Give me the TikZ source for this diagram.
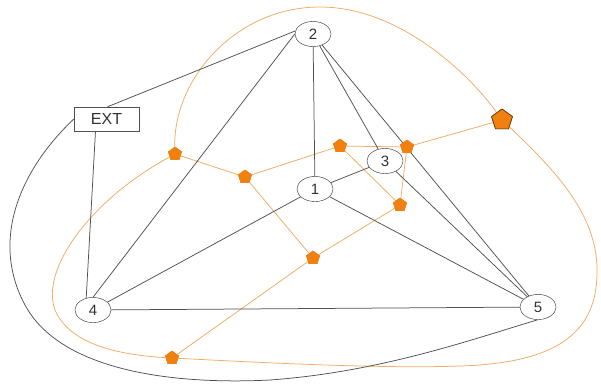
\documentclass[tikz,border=0pt]{standalone}
\usepackage{fontspec}
\setmainfont{Liberation Sans}
\usetikzlibrary{shapes.geometric}
\definecolor{edgegray}{RGB}{80,80,80}
\definecolor{dualline}{RGB}{240,170,100}
\definecolor{dualfill}{RGB}{240,128,16}
\begin{document}
\begin{tikzpicture}[x=1pt,y=-1pt,
  vtx/.style={draw=edgegray,ellipse,fill=white,minimum width=36pt,minimum height=25pt,inner sep=0pt,font=\fontsize{15}{15}\selectfont,text=black!80},
  extbox/.style={draw=edgegray,rectangle,fill=white,minimum width=65pt,minimum height=24pt,inner sep=0pt,font=\fontsize{16}{16}\selectfont,text=black!80},
  pent/.style={regular polygon,regular polygon sides=5,fill=dualfill,draw=dualfill,minimum size=14pt,inner sep=0pt},
  bigpent/.style={regular polygon,regular polygon sides=5,fill=dualfill,draw=black!60!dualfill,line width=0.6pt,minimum size=22pt,inner sep=0pt},
  pedge/.style={draw=edgegray,line width=0.75pt},
  dedge/.style={draw=dualline,line width=0.75pt}]
\useasboundingbox (0,0) rectangle (601,383);
% primal vertices
\node[vtx] (n2) at (313,34) {2};
\node[vtx] (n1) at (315,189) {1};
\node[vtx] (n3) at (385,161) {3};
\node[vtx] (n4) at (93,310) {4};
\node[vtx] (n5) at (538,307) {5};
\node[extbox] (ext) at (106.5,119) {EXT};
% dual vertices
\node[pent] (dA) at (175,154) {};
\node[pent] (dB) at (245,177) {};
\node[pent] (dC) at (340,146) {};
\node[pent] (dD) at (407,147) {};
\node[pent] (dE) at (400,205) {};
\node[pent] (dF) at (313,258) {};
\node[pent] (dG) at (172,358) {};
\node[bigpent] (dH) at (502,120) {};
% dual edges
\path[dedge] (dA) -- (dB);
\path[dedge] (dB) -- (dC);
\path[dedge] (dB) -- (dF);
\path[dedge] (dC) -- (dD);
\path[dedge] (dC) -- (dE);
\path[dedge] (dD) -- (dE);
\path[dedge] (dD) -- (dH);
\path[dedge] (dE) -- (dF);
\path[dedge] (dF) -- (dG);
\path[dedge] (dA) .. controls (173,80) and (235,7) .. (320,7) .. controls (400,7) and (470,75) .. (dH);
\path[dedge] (dH) .. controls (555,170) and (598,215) .. (597,272) .. controls (597,332) and (558,363) .. (460,366) .. controls (380,369) and (250,362) .. (dG);
\path[dedge] (dA) .. controls (90,200) and (40,270) .. (55,310) .. controls (70,345) and (120,355) .. (dG);
% primal edges
\path[pedge] (n2.170) -- ([xshift=1pt]ext.north);
\path[pedge] (n2.west) -- (n4.north);
\path[pedge] (n2) -- (n1);
\path[pedge] (n2) -- (n3);
\path[pedge] (n2) -- (n5);
\path[pedge] (n1) -- (n3);
\path[pedge] (n1) -- (n4);
\path[pedge] (n1) -- (n5);
\path[pedge] (n3) -- (n5);
\path[pedge] (n4) -- (n5);
\path[pedge] ([xshift=-11pt]ext.south) -- (n4.120);
\path[pedge] (ext.west) .. controls (20,170) and (-10,240) .. (25,305) .. controls (60,370) and (170,385) .. (270,380) .. controls (380,372) and (470,340) .. (n5.south);
% redraw nodes on top
\node[vtx] at (n2) {2};
\node[vtx] at (n1) {1};
\node[vtx] at (n3) {3};
\node[vtx] at (n4) {4};
\node[vtx] at (n5) {5};
\node[extbox] at (ext) {EXT};
\node[pent] at (dA) {};
\node[pent] at (dB) {};
\node[pent] at (dC) {};
\node[pent] at (dD) {};
\node[pent] at (dE) {};
\node[pent] at (dF) {};
\node[pent] at (dG) {};
\node[bigpent] at (dH) {};
\end{tikzpicture}
\end{document}
